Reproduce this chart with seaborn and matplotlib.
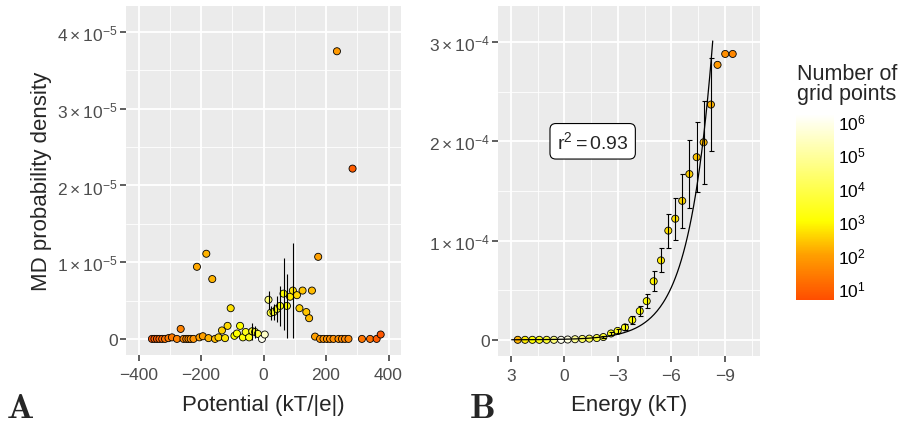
import numpy as np
import pandas as pd
import matplotlib
matplotlib.use("Agg")
import matplotlib.pyplot as plt
import seaborn as sns
from matplotlib.colors import LinearSegmentedColormap, Normalize
from matplotlib.cm import ScalarMappable
from matplotlib.ticker import AutoMinorLocator

# ---- panel A: potential vs MD probability density ----
pot_x = [-357, -349, -341, -333, -324, -315, -304, -293, -277, -265,
         -256, -247, -240, -233, -224, -213, -205, -194, -183, -176,
         -164, -155, -144, -133, -123, -115, -105, -93, -85, -75,
         -66, -57, -46, -36, -27, -18, -5, 4, 16, 23,
         32, 43, 53, 64, 75, 85, 94, 107, 115, 125,
         137, 146, 155, 165, 175, 181, 192, 203, 213, 224,
         235, 240, 251, 261, 272, 285, 315, 341, 362, 375]
pot_y = [0, 0, 0, 0, 0, 0, 0.01, 0.02, 0, 0.13,
         0, 0, 0, 0, 0, 0.94, 0.02, 0.035, 1.11, 0.01,
         0.78, 0, 0.02, 0.11, 0.01, 0.17, 0.40, 0.04, 0.07, 0.17,
         0.02, 0.09, 0.02, 0.10, 0.09, 0.065, 0, 0.057, 0.51, 0.34,
         0.35, 0.39, 0.43, 0.59, 0.43, 0.55, 0.63, 0.57, 0.40, 0.63,
         0.35, 0.27, 0.63, 0.03, 1.07, 0, 0, 0, 0, 0,
         3.75, 0, 0, 0, 0, 2.22, 0, 0, 0, 0.057]  # x 1e-5
pot_err = [0, 0, 0, 0, 0, 0, 0, 0, 0, 0,
           0, 0, 0, 0, 0, 0, 0, 0, 0, 0,
           0, 0, 0, 0, 0, 0, 0, 0, 0, 0,
           0, 0, 0, 0.11, 0.08, 0, 0, 0, 0.12, 0.09,
           0.11, 0.17, 0.26, 0.47, 0.42, 0, 0.62, 0, 0, 0,
           0, 0, 0, 0, 0, 0, 0, 0, 0, 0,
           0, 0, 0, 0, 0, 0, 0, 0, 0, 0]  # x 1e-5
pot_logn = [0.8, 0.9, 0.9, 1.0, 1.1, 1.3, 1.4, 1.4, 1.5, 1.5,
            1.6, 1.6, 1.7, 1.7, 1.8, 2.1, 2.0, 2.0, 2.2, 2.2,
            2.2, 2.3, 2.5, 2.5, 2.7, 2.6, 2.7, 3.0, 3.0, 3.0,
            3.1, 3.3, 3.2, 3.4, 3.5, 3.7, 6.0, 5.5, 4.5, 3.8,
            3.6, 3.4, 3.2, 3.0, 3.1, 2.8, 2.7, 2.6, 2.5, 2.4,
            2.4, 2.3, 2.3, 2.0, 2.0, 1.8, 1.8, 1.8, 1.7, 1.7,
            1.9, 1.7, 1.6, 1.6, 1.6, 0.9, 1.3, 1.2, 0.9, 0.8]

# ---- panel B: energy vs MD probability density ----
en_x = [2.61, 2.20, 1.79, 1.40, 0.99, 0.58, 0.18, -0.19, -0.60, -1.01,
        -1.40, -1.82, -2.19, -2.62, -2.99, -3.40, -3.81, -4.23, -4.62, -5.01,
        -5.42, -5.83, -6.22, -6.61, -7.01, -7.42, -7.81, -8.22, -8.59, -9.02,
        -9.44]
en_y = [0, 0, 0, 0, 0, 0, 0, 0.003, 0.006, 0.009,
        0.012, 0.018, 0.028, 0.064, 0.09, 0.125, 0.20, 0.29, 0.39, 0.59,
        0.80, 1.10, 1.22, 1.40, 1.67, 1.84, 1.99, 2.37, 2.77, 2.88,
        2.88]  # x 1e-4
en_err = [0, 0, 0, 0, 0, 0, 0, 0, 0, 0,
          0, 0, 0.01, 0.015, 0.02, 0.03, 0.04, 0.05, 0.07, 0.10,
          0.12, 0.17, 0.21, 0.27, 0.34, 0.35, 0.42, 0.47, 0, 0,
          0]  # x 1e-4
en_logn = [2.2, 2.8, 3.0, 3.2, 3.6, 4.5, 6.0, 5.8, 4.8, 4.2,
           4.0, 3.8, 3.6, 3.4, 3.3, 3.2, 3.1, 3.0, 3.0, 2.9,
           2.8, 2.7, 2.7, 2.6, 2.5, 2.4, 2.3, 2.2, 1.9, 1.7,
           1.6]

# exponential fit shown in panel B
fit_A = 5.87e-7
fit_k = 0.75
fit_range = (2.95, -8.32)
r2_text = r"$\mathregular{r^2 = 0.93}$"

pot_yticks = [0, 1e-5, 2e-5, 3e-5, 4e-5]
pot_ylabels = ["0", r"$1\times10^{-5}$", r"$2\times10^{-5}$", r"$3\times10^{-5}$", r"$4\times10^{-5}$"]
pot_xticks = [-400, -200, 0, 200, 400]
en_yticks = [0, 1e-4, 2e-4, 3e-4]
en_ylabels = ["0", r"$1\times10^{-4}$", r"$2\times10^{-4}$", r"$3\times10^{-4}$"]
en_xticks = [3, 0, -3, -6, -9]
cbar_ticks = [1, 2, 3, 4, 5, 6]
cbar_labels = [r"$10^{%d}$" % t for t in cbar_ticks]
logn_lim = (0.65, 6.21)

sns.set_theme(style="darkgrid", rc={
    "axes.facecolor": "#EBEBEB",
    "grid.color": "white",
    "xtick.color": "#333333",
    "ytick.color": "#333333",
    "xtick.labelcolor": "#4D4D4D",
    "ytick.labelcolor": "#4D4D4D",
})
plt.rcParams["font.family"] = ["Liberation Sans", "DejaVu Sans"]
plt.rcParams["mathtext.fontset"] = "custom"
plt.rcParams["mathtext.rm"] = "Liberation Sans"
plt.rcParams["mathtext.it"] = "Liberation Sans:italic"
plt.rcParams["mathtext.bf"] = "Liberation Sans:bold"

# red-orange -> orange -> yellow -> white on log10(grid points)
lo, hi = logn_lim
stops = [(0.0, "#FF4E00"), ((2.0 - lo) / (hi - lo), "#FFA000"),
         ((3.0 - lo) / (hi - lo), "#FFFF00"), (1.0, "#FFFFFF")]
cmap = LinearSegmentedColormap.from_list("grid", stops)

pot = pd.DataFrame({"x": pot_x, "y": np.array(pot_y) * 1e-5,
                    "err": np.array(pot_err) * 1e-5, "logn": pot_logn})
en = pd.DataFrame({"x": en_x, "y": np.array(en_y) * 1e-4,
                   "err": np.array(en_err) * 1e-4, "logn": en_logn})

fig = plt.figure(figsize=(9.09, 4.27), dpi=100)
axA = fig.add_axes([126 / 909, 71 / 427, 275 / 909, 349 / 427])
axB = fig.add_axes([498.3 / 909, 70.3 / 427, 261.7 / 909, 349.4 / 427])


def style_axes(ax):
    for s in ax.spines.values():
        s.set_visible(False)
    ax.xaxis.set_minor_locator(AutoMinorLocator(2))
    ax.yaxis.set_minor_locator(AutoMinorLocator(2))
    ax.grid(which="major", color="white", linewidth=1.3)
    ax.grid(which="minor", color="white", linewidth=0.6)
    ax.tick_params(which="major", length=4, width=1.1, labelsize=12.5, pad=2,
                   bottom=True, left=True)
    ax.tick_params(axis="x", which="major", pad=5)
    ax.tick_params(which="minor", length=0)
    ax.set_axisbelow(True)


# panel A
sns.scatterplot(data=pot, x="x", y="y", hue="logn", palette=cmap, hue_norm=logn_lim,
                s=26, edgecolor="black", linewidth=0.6, legend=False, ax=axA, zorder=3)
bars = pot[pot["err"] > 0]
axA.vlines(bars["x"], bars["y"] - bars["err"], bars["y"] + bars["err"],
           color="black", linewidth=0.8, zorder=4)
axA.set_xlim(-440, 440)
axA.set_ylim(-0.21e-5, 4.34e-5)
axA.set_xticks(pot_xticks)
axA.set_yticks(pot_yticks, pot_ylabels)
style_axes(axA)
axA.set_xlabel("Potential (kT/|e|)", fontsize=16, labelpad=8)
axA.set_ylabel("MD probability density", fontsize=16, labelpad=4)

# panel B
sns.scatterplot(data=en, x="x", y="y", hue="logn", palette=cmap, hue_norm=logn_lim,
                s=26, edgecolor="black", linewidth=0.6, legend=False, ax=axB, zorder=3)
bars = en[en["err"] > 0]
axB.errorbar(bars["x"], bars["y"], yerr=bars["err"], fmt="none", ecolor="black",
             elinewidth=0.8, capsize=1.8, capthick=0.8, zorder=4)
fit_e = np.linspace(fit_range[0], fit_range[1], 200)
axB.plot(fit_e, fit_A * np.exp(-fit_k * fit_e), color="black", linewidth=0.9, zorder=5)
axB.text(-1.59, 2.0e-4, r2_text, fontsize=14, ha="center", va="center", zorder=6,
         bbox=dict(boxstyle="round,pad=0.35,rounding_size=0.3", fc="white", ec="black", lw=0.8))
axB.set_xlim(3.70, -10.97)
axB.set_ylim(-0.16e-4, 3.36e-4)
axB.set_xticks(en_xticks)
axB.set_yticks(en_yticks, en_ylabels)
style_axes(axB)
axB.set_xlabel("Energy (kT)", fontsize=16, labelpad=8)
axB.set_ylabel("")

# colour bar
cax = fig.add_axes([796 / 909, 126.3 / 427, 38 / 909, 185.7 / 427])
sm = ScalarMappable(norm=Normalize(*logn_lim), cmap=cmap)
cb = fig.colorbar(sm, cax=cax)
cb.outline.set_visible(False)
cb.set_ticks(cbar_ticks, labels=cbar_labels)
cax.tick_params(which="major", direction="in", length=4, width=0.8, color="#FFFFFFCC",
                left=True, right=True, labelleft=False, labelright=True,
                labelsize=12.5, labelcolor="black", pad=3)
cax.tick_params(which="minor", length=0)
fig.text(797 / 909, 1 - 64 / 427, "Number of\ngrid points", fontsize=15.5,
         ha="left", va="top", linespacing=0.95)

# panel letters
fig.text(7 / 909, 9 / 427, "A", fontfamily="cmb10", fontsize=26, ha="left", va="baseline")
fig.text(470 / 909, 9 / 427, "B", fontfamily="cmb10", fontsize=26, ha="left", va="baseline")

fig.savefig("out.png", dpi=100)
